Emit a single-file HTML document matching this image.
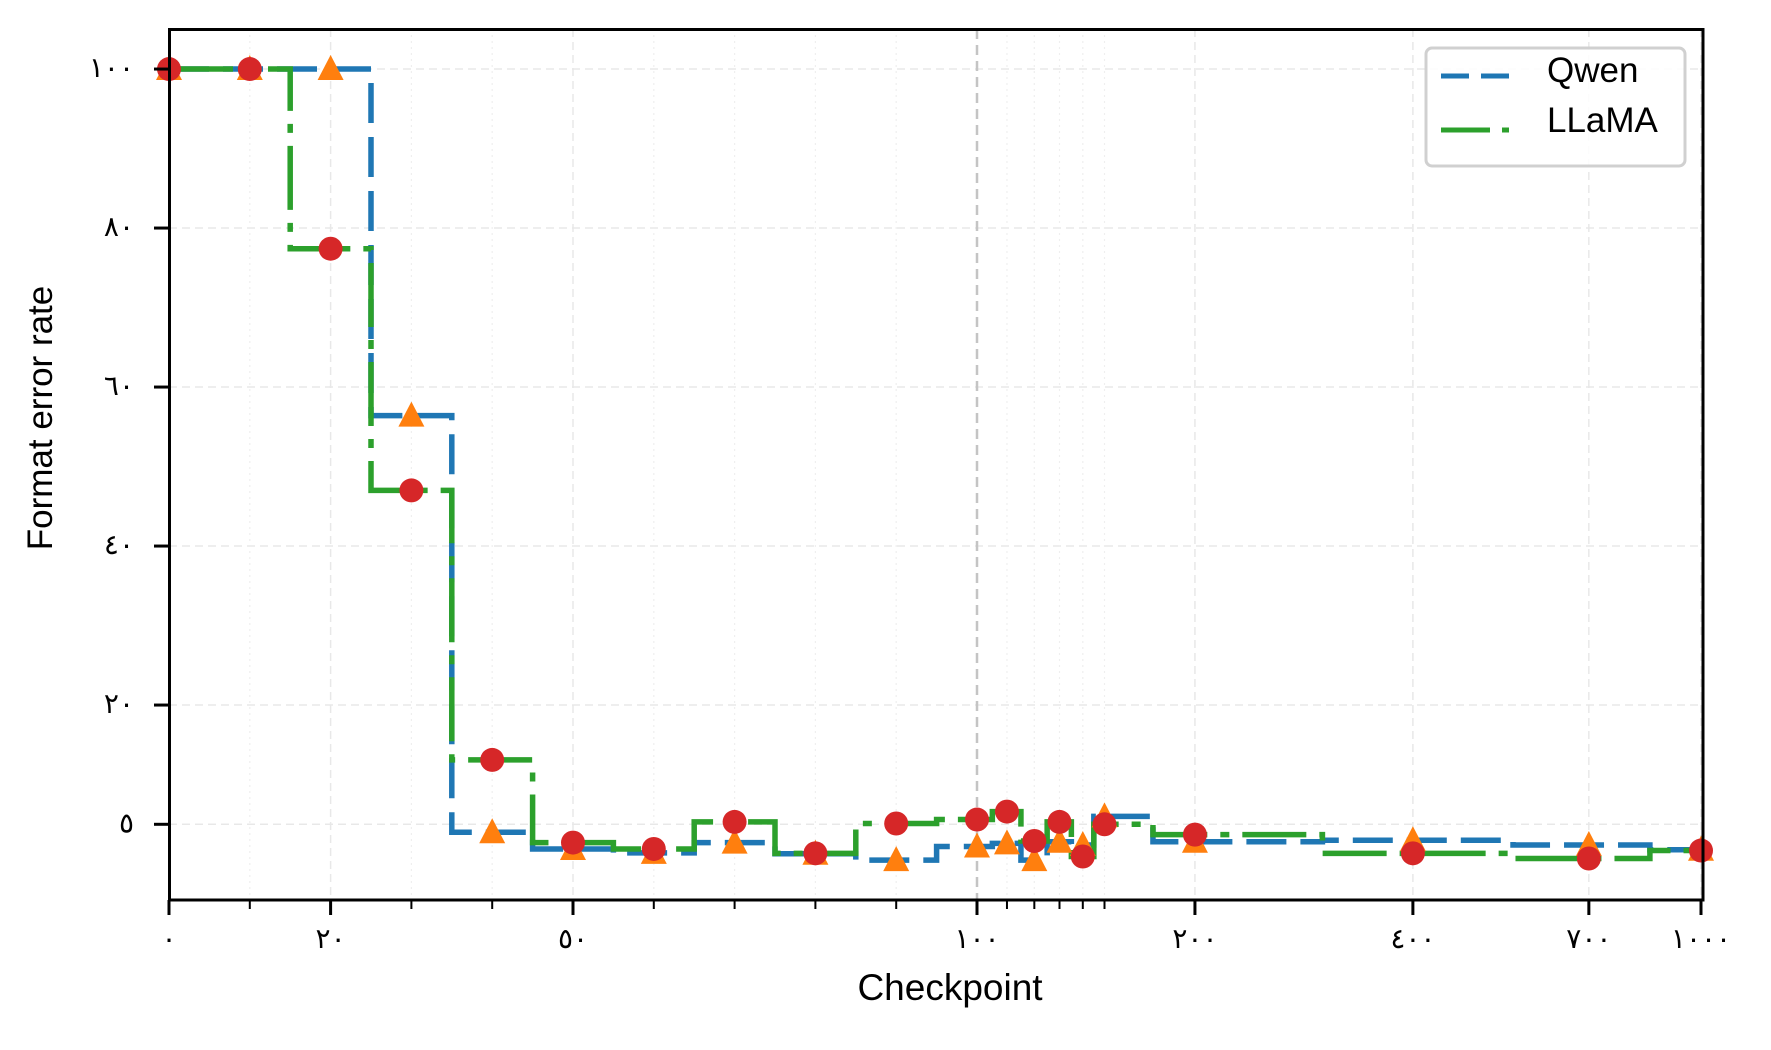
<!DOCTYPE html>
<html><head><meta charset="utf-8"><style>
html,body{margin:0;padding:0;background:#fff;}
svg{display:block;}
</style></head><body>
<svg id="chart" width="1771" height="1050" viewBox="0 0 1771 1050" xmlns="http://www.w3.org/2000/svg">
<g id="grid"></g>
<g id="series"></g>
<g id="markers"></g>
<rect x="169.5" y="29.5" width="1533.5" height="870.5" fill="none" stroke="#000" stroke-width="3"/>
<g id="axes"></g>
<text x="950" y="1000" text-anchor="middle" font-family="'Liberation Sans','DejaVu Sans',sans-serif" font-size="37">Checkpoint</text>
<text transform="translate(52,418) rotate(-90)" text-anchor="middle" font-family="'Liberation Sans','DejaVu Sans',sans-serif" font-size="35">Format error rate</text>
<g>
<rect x="1426" y="48" width="259" height="118" rx="6" fill="#fff" fill-opacity="0.85" stroke="#d0d0d0" stroke-width="3"/>
<line x1="1441" y1="76" x2="1509" y2="76" stroke="#1f77b4" stroke-width="5" stroke-dasharray="28,12"/>
<text x="1547" y="82" font-family="'Liberation Sans','DejaVu Sans',sans-serif" font-size="35">Qwen</text>
<line x1="1441" y1="130" x2="1509" y2="130" stroke="#2ca02c" stroke-width="5" stroke-dasharray="49,12,7,12"/>
<text x="1547" y="132" font-family="'Liberation Sans','DejaVu Sans',sans-serif" font-size="35">LLaMA</text>
</g>
</svg>
<script>
const checkpoints = [0,10,20,30,40,50,60,70,80,90,100,110,120,130,140,150,200,400,700,1000];
const qwenValues = [100,100,100,56.4,4.0,1.9,1.4,2.7,1.3,0.5,2.2,2.6,0.5,2.8,2.4,6.0,2.8,3.0,2.4,1.8];
const llamaValues = [100,100,77.4,47,13.1,2.7,1.9,5.3,1.35,5.1,5.6,6.6,2.9,5.3,0.95,5.0,3.7,1.35,0.7,1.7];
const yTicks = [5,20,40,60,80,100];
const yTickLabels = ['٥','٢٠','٤٠','٦٠','٨٠','١٠٠'];
const xTicks = [0,20,50,100,200,400,700,1000];
const xTickLabels = ['٠','٢٠','٥٠','١٠٠','٢٠٠','٤٠٠','٧٠٠','١٠٠٠'];
const xMinor = [10,30,40,60,70,80,90,110,120,130,140,150];

const NS='http://www.w3.org/2000/svg';
function X(v){ return v<=100 ? 169+v*8.08 : 977+724*Math.log10(v/100); }
function Y(v){ return 824.3-(v-5)*7.95; }
function mk(tag,attrs,parent){const e=document.createElementNS(NS,tag);for(const k in attrs)e.setAttribute(k,attrs[k]);parent.appendChild(e);return e;}
const grid=document.getElementById('grid'), series=document.getElementById('series'), markers=document.getElementById('markers'), axes=document.getElementById('axes');

yTicks.forEach((t,i)=>{
  const g=mk('line',{x1:169,x2:1703,y1:Y(t),y2:Y(t),stroke:'#e8e8e8','stroke-width':1.5,'stroke-dasharray':'8,5'},grid);
  
  
  const tk=mk('line',{x1:154,x2:169,y1:Y(t),y2:Y(t),stroke:'#000','stroke-width':3},axes);
  
  
  const lb=mk('text',{x:134,y:Y(t)+8,'text-anchor':'end','font-family':"'DejaVu Sans',sans-serif",'font-size':28},axes);
  lb.textContent=yTickLabels[i];
  
  
});
xTicks.forEach((t,i)=>{
  const x=X(t);
  if(t!==100){
    const g=mk('line',{x1:x,x2:x,y1:29,y2:900,stroke:'#e8e8e8','stroke-width':1.5,'stroke-dasharray':'8,5'},grid);
    
    
  }
  const tk=mk('line',{x1:x,x2:x,y1:900,y2:915,stroke:'#000','stroke-width':3},axes);
  
  
  const lb=mk('text',{x:x,y:948,'text-anchor':'middle','font-family':"'DejaVu Sans',sans-serif",'font-size':28},axes);
  lb.textContent=xTickLabels[i];
  
  
});
xMinor.forEach(t=>{
  const x=X(t);
  const g=mk('line',{x1:x,x2:x,y1:29,y2:900,stroke:'#efefef','stroke-width':1.2,'stroke-dasharray':'2,4'},grid);
  
  
  const tk=mk('line',{x1:x,x2:x,y1:900,y2:909,stroke:'#000','stroke-width':2},axes);
  
  
});
const ref=mk('line',{x1:X(100),x2:X(100),y1:29,y2:900,stroke:'#c4c4c4','stroke-width':2.5,'stroke-dasharray':'10,6'},grid);



function stepPath(vals){
  let d='M'+X(checkpoints[0])+','+Y(vals[0]);
  for(let i=0;i<checkpoints.length-1;i++){
    const m=X((checkpoints[i]+checkpoints[i+1])/2);
    d+=' L'+m+','+Y(vals[i])+' L'+m+','+Y(vals[i+1]);
  }
  d+=' L'+X(checkpoints[checkpoints.length-1])+','+Y(vals[vals.length-1]);
  return d;
}
const qp=mk('path',{d:stepPath(qwenValues),fill:'none',stroke:'#1f77b4','stroke-width':5.5,'stroke-dasharray':'40,14'},series);


const lp=mk('path',{d:stepPath(llamaValues),fill:'none',stroke:'#2ca02c','stroke-width':5.5,'stroke-dasharray':'64,13,9,13'},series);



checkpoints.forEach((c,i)=>{
  const x=X(c), y=Y(qwenValues[i]);
  const t=mk('polygon',{points:(x)+','+(y-14)+' '+(x-13)+','+(y+11)+' '+(x+13)+','+(y+11),fill:'#ff7f0e'},markers);
  
  
});
checkpoints.forEach((c,i)=>{
  const cc=mk('circle',{cx:X(c),cy:Y(llamaValues[i]),r:12,fill:'#d62728'},markers);
  
  
});
</script>
</body></html>
